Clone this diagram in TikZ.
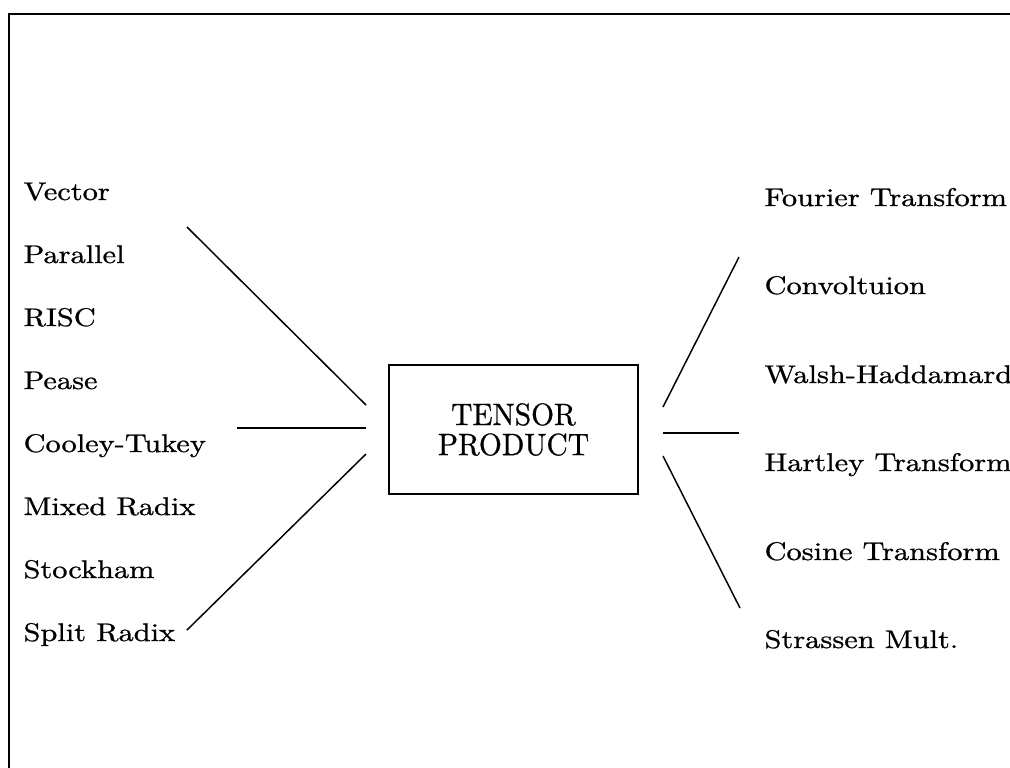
\documentclass[tikz,border=0pt]{standalone}
\usepackage{graphicx}
\usepackage{fontspec}
\setmainfont{lmroman10-regular.otf}[FakeBold=0.8]
\newcommand\squat[1]{\scalebox{1}[0.84]{#1}}
\begin{document}
\begin{tikzpicture}[x=0.339pt,y=-0.339pt,
  lbl/.style={anchor=base west, inner sep=0pt, font=\fontsize{10.3}{12}\selectfont},
  mainbox/.style={draw, line width=0.55pt, minimum width=84.4pt, minimum height=43.7pt,
     inner sep=0pt, align=center, font=\fontsize{10}{10.2}\selectfont},
  conn/.style={line width=0.5pt},
  frame/.style={line width=0.6pt}]
\useasboundingbox (0,0) rectangle (1010,767);
\draw[frame] (9,790) -- (9,14) -- (1030,14);
% left labels
\node[lbl] (vec) at (23,200) {\squat{Vector}};
\node[lbl] (par) at (23,263) {\squat{Parallel}};
\node[lbl] (risc) at (23,326) {\squat{RISC}};
\node[lbl] (pease) at (23,389) {\squat{Pease}};
\node[lbl] (ct) at (23,452) {\squat{Cooley-Tukey}};
\node[lbl] (mr) at (23,515) {\squat{Mixed Radix}};
\node[lbl] (st) at (23,578) {\squat{Stockham}};
\node[lbl] (sr) at (23,641) {\squat{Split Radix}};
% right labels
\node[lbl] (ft) at (764,206) {\squat{Fourier Transform}};
\node[lbl] (cv) at (764,294) {\squat{Convoltuion}};
\node[lbl] (wh) at (764,383) {\squat{Walsh-Haddamard}};
\node[lbl] (ht) at (764,471) {\squat{Hartley Transform}};
\node[lbl] (cs) at (764,560) {\squat{Cosine Transform}};
\node[lbl] (sm) at (764,648) {\squat{Strassen Mult.}};
% central box
\node[mainbox] (tp) at (513.5,429.5) {\scalebox{1}[1.05]{TENSOR}\\\scalebox{1}[1.05]{PRODUCT}};
% connector end points
\coordinate (l1a) at (187,227); \coordinate (l1b) at (366,405);
\coordinate (l2a) at (237,428); \coordinate (l2b) at (366,428);
\coordinate (l3a) at (187,630); \coordinate (l3b) at (366,454);
\coordinate (r1a) at (663,407); \coordinate (r1b) at (739,257);
\coordinate (r2a) at (663,433); \coordinate (r2b) at (739,433);
\coordinate (r3a) at (663,456); \coordinate (r3b) at (740,608);
\draw[conn] (l1a) -- (l1b);
\draw[conn] (l2a) -- (l2b);
\draw[conn] (l3a) -- (l3b);
\draw[conn] (r1a) -- (r1b);
\draw[conn] (r2a) -- (r2b);
\draw[conn] (r3a) -- (r3b);
\end{tikzpicture}
\end{document}
